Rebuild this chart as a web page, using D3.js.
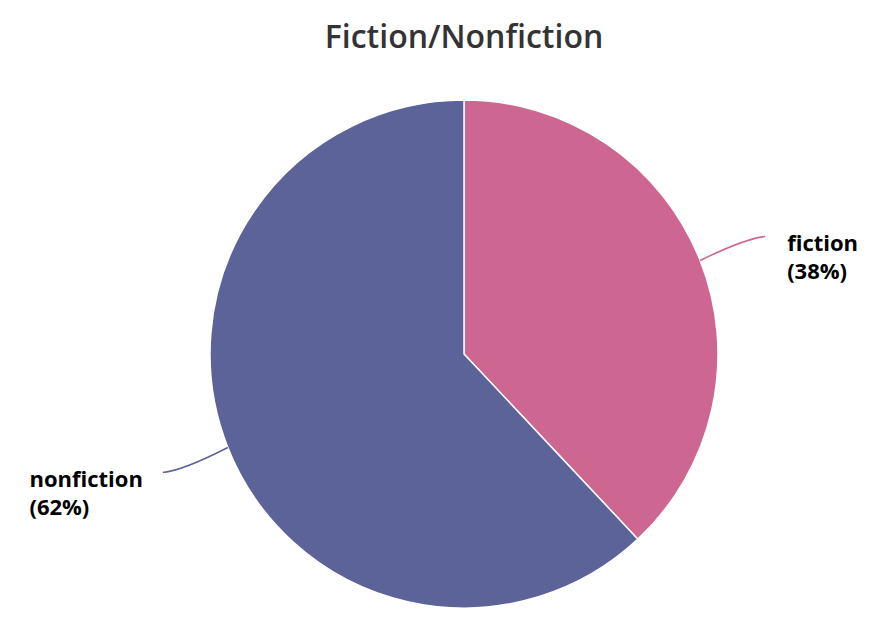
<!DOCTYPE html>
<html>
<head>
<meta charset="utf-8">
<script src="https://cdn.jsdelivr.net/npm/d3@7"></script>
<style>
  html, body { margin: 0; padding: 0; background: #fff; }
  svg { display: block; }
</style>
</head>
<body>
<svg id="chart" width="884" height="632"></svg>
<script>
const categories = ["fiction", "nonfiction"];
const values = [38, 62];
const colors = ["#cd6791", "#5b6399"];
const title = "Fiction/Nonfiction";

const W = 884, H = 632;
const cx = 464, cy = 354, R = 254;
const svg = d3.select("#chart");

svg.append("text")
  .attr("x", cx).attr("y", 48)
  .attr("text-anchor", "middle")
  .attr("font-family", "'Open Sans', sans-serif")
  .attr("font-weight", 600)
  .attr("font-size", 32)
  .attr("fill", "#333")
  .text(title);

const data = categories.map((c, i) => ({ name: c, value: values[i], color: colors[i] }));
const pie = d3.pie().value(d => d.value).sort(null);
const arcs = pie(data);
const arc = d3.arc().innerRadius(0).outerRadius(R);

const g = svg.append("g").attr("transform", `translate(${cx},${cy})`);
g.selectAll("path.slice").data(arcs).join("path")
  .attr("class", "slice")
  .attr("d", arc)
  .attr("fill", d => d.data.color)
  .attr("stroke", "#fff")
  .attr("stroke-width", 1.5)
  .attr("stroke-linejoin", "round");

const total = d3.sum(values);
arcs.forEach(a => {
  const mid = (a.startAngle + a.endAngle) / 2;
  const sx = Math.sin(mid), sy = -Math.cos(mid);
  const right = sx > 0;
  const p0 = [R * sx, R * sy];
  const dir = right ? 1 : -1;
  const p2 = [p0[0] + dir * 65, p0[1] + (right ? -24 : 25)];
  const c1 = [p0[0] + dir * 45, p2[1] + (right ? 2 : -2)];
  g.append("path")
    .attr("d", `M${p0[0]},${p0[1]} Q${c1[0]},${c1[1]} ${p2[0]},${p2[1]}`)
    .attr("fill", "none")
    .attr("stroke", a.data.color)
    .attr("stroke-width", 1.5);
  const y0 = p2[1] + 14;
  const mk = (txt, y) => g.append("text")
    .attr("y", y)
    .attr("font-family", "'Open Sans', sans-serif")
    .attr("font-weight", 700)
    .attr("font-size", 22)
    .attr("fill", "#000")
    .text(txt);
  const t1 = mk(a.data.name, y0);
  const t2 = mk("(" + Math.round(a.data.value / total * 100) + "%)", y0 + 28);
  const tx = right ? p2[0] + 22 : p2[0] - 20 - t1.node().getComputedTextLength();
  t1.attr("x", tx); t2.attr("x", tx);
});
</script>
</body>
</html>
